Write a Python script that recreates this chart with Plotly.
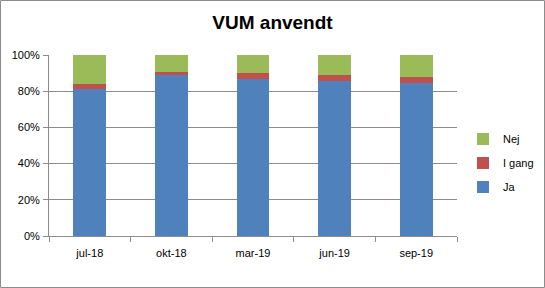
import plotly.graph_objects as go

categories = ["jul-18", "okt-18", "mar-19", "jun-19", "sep-19"]
ja = [81.3, 88.9, 86.7, 85.7, 84.6]
i_gang = [2.8, 1.8, 3.5, 3.3, 3.4]
nej = [15.9, 9.3, 9.8, 11.0, 12.0]
series = [("Ja", ja, "#4F81BD"), ("I gang", i_gang, "#C0504D"), ("Nej", nej, "#9BBB59")]

W, H = 545, 288
ml, mr, mt, mb = 49, 88, 55, 52
pw, ph = W - ml - mr, H - mt - mb

fig = go.Figure()
for i, (name, vals, col) in enumerate(series):
    fig.add_trace(go.Bar(x=categories, y=vals, name=name, marker_color=col,
                         marker_line_width=0, legendgroup=name,
                         legendrank=1000 - i))

font_family = "Liberation Sans, Arial, sans-serif"
fig.update_layout(
    width=W, height=H, barmode="stack", bargap=0.6,
    margin=dict(l=ml, r=mr, t=mt, b=mb, autoexpand=False),
    paper_bgcolor="white", plot_bgcolor="white",
    font=dict(family=font_family, size=11, color="#000000"),
    title=dict(text="<b>VUM anvendt</b>", x=0.5, xref="container", xanchor="center",
               y=1 - 22 / H, yref="container", yanchor="middle",
               font=dict(size=19, family=font_family)),
    legend=dict(traceorder="grouped", x=1.0 + 6 / pw, xanchor="left",
                y=1 - (163 - mt) / ph, yanchor="middle",
                tracegroupgap=5, font=dict(size=11), itemwidth=30,
                bgcolor="rgba(0,0,0,0)"),
    showlegend=True,
)
fig.update_yaxes(range=[0, 100], tickvals=[0, 20, 40, 60, 80, 100],
                 ticktext=["0%", "20%", "40%", "60%", "80%", "100%"],
                 showgrid=True, gridcolor="#8C8C8C", gridwidth=1,
                 showline=True, linecolor="#8C8C8C", ticks="outside", ticklen=5,
                 tickcolor="#8C8C8C", zeroline=False, ticklabelstandoff=1)
fig.update_xaxes(showline=True, linecolor="#8C8C8C", ticks="outside", ticklen=5,
                 tickcolor="#8C8C8C", tickson="boundaries", showgrid=False,
                 ticklabelstandoff=7)

fig.add_shape(type="rect", xref="paper", yref="paper",
              x0=-(ml - 0.5) / pw, x1=1 + (mr - 0.5) / pw,
              y0=-(mb - 0.5) / ph, y1=1 + (mt - 0.5) / ph,
              line=dict(color="#8C8C8C", width=1), layer="below")

fig.write_html("out.html")
